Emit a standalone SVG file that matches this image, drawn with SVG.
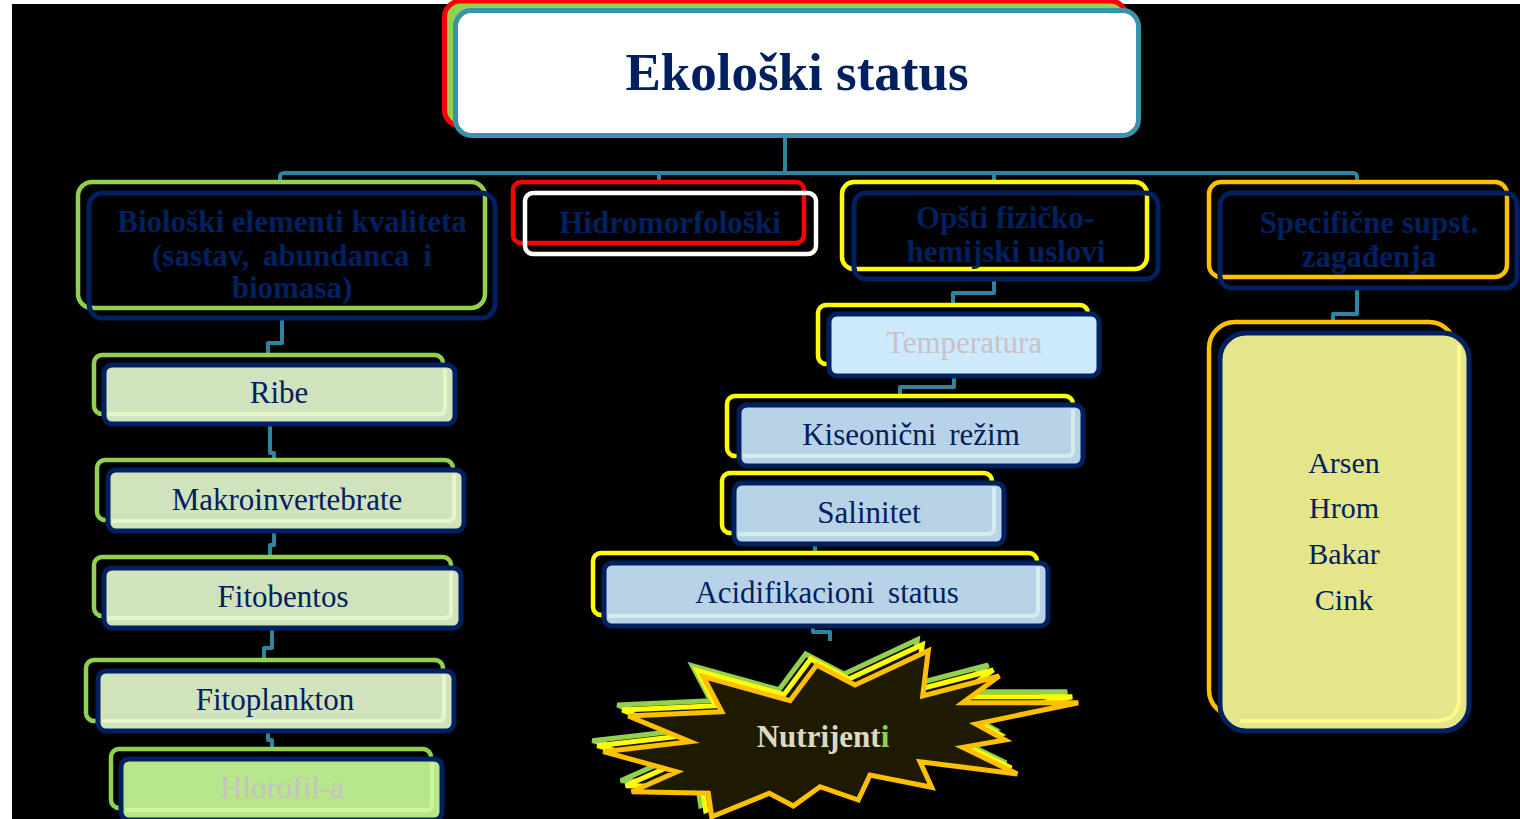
<svg xmlns="http://www.w3.org/2000/svg" xmlns:xlink="http://www.w3.org/1999/xlink" width="1520" height="819" viewBox="0 0 1520 819">
  <style>
    text { font-family: "Liberation Serif", "Times New Roman", serif; text-anchor: middle; }
    .hd { font-weight: bold; font-size: 31px; fill: #002060; }
    .it { font-size: 31px; fill: #002060; }
    .grey { fill: #c9c1c5; }
    .nv { stroke: #002060; stroke-width: 5; }
    .gr { fill: none; stroke: #92d050; stroke-width: 4.5; }
    .ye { fill: none; stroke: #ffff00; stroke-width: 4.5; }
    .or { fill: none; stroke: #ffc000; stroke-width: 4.5; }
    .rd { fill: none; stroke: #ff0000; stroke-width: 4.5; }
    .wh { fill: none; stroke: #ffffff; stroke-width: 4.5; }
    .fg { fill: #d0e3bc; }
    .fg2 { fill: #b8e68c; }
    .fb { fill: #b8d3e7; }
    .fb2 { fill: #cdeafd; }
    .fy { fill: #e5e68b; }
    .hl { fill: none; stroke-width: 4; }
    .conn { fill: none; stroke: #31849b; stroke-width: 4; stroke-linejoin: round; }
  </style>
  <defs>
    <polygon id="burst" points="928.3,650.7 922.7,696 999.3,676 962.7,702.7 1078.3,702.7 976,724 1005,740 962.7,747.3 1017.3,774 920,761.7 931.7,787.3 870,775 858.3,800 820,786.7 793.3,806 769.3,793.3 711.7,816.7 708.3,793.3 631.7,791.7 676.7,771.7 603.3,751.7 690,741.7 628.3,716 721.7,711.7 703.3,676.7 790,700.7 816.7,665 855,685"/>
  </defs>

  <!-- page -->
  <rect x="0" y="0" width="1520" height="819" fill="#ffffff"/>
  <rect x="12" y="4" width="1508" height="815" fill="#000000"/>

  <!-- connectors -->
  <g id="connectors" class="conn">
    <path d="M785,136 V173"/>
    <path d="M280,182 V177 Q280,173 284,173 H1353 Q1357,173 1357,177 V182"/>
    <path d="M659,173 V182"/>
    <path d="M994,173 V182"/>
    <!-- left column -->
    <path d="M282,318 V343 H268 V355"/>
    <path d="M270,424 V453 H274 V460"/>
    <path d="M274,531 V545 H270 V557"/>
    <path d="M272,628 V648 H264 V660"/>
    <path d="M268,731 V740 H272 V749"/>
    <!-- middle column -->
    <path d="M994,279 V293 H953 V305"/>
    <path d="M954,376 V387 H900 V397"/>
    <path d="M815,544 V553"/>
    <path d="M813,626 V632 H830 V641"/>
    <!-- right column -->
    <path d="M1357,288 V314 H1333 V322"/>
  </g>

  <!-- root -->
  <g id="node-ekoloski-status">
    <rect x="444.5" y="1" width="682" height="125" rx="16" fill="#92d050" stroke="#ff0000" stroke-width="5"/>
    <rect x="455.5" y="10.5" width="683" height="125" rx="16" fill="#ffffff" stroke="#3a93aa" stroke-width="5"/>
    <text x="797" y="90" style="font-weight:bold;font-size:53px;fill:#002060">Ekološki status</text>
  </g>

  <!-- category headers -->
  <g id="node-bioloski">
    <rect class="gr" x="78" y="182" width="407" height="126" rx="14"/>
    <rect class="nv" fill="none" x="89" y="193" width="406" height="125" rx="14"/>
    <text class="hd" x="292" y="232">Biološki elementi kvaliteta</text>
    <text class="hd" x="292" y="266" word-spacing="6">(sastav, abundanca i</text>
    <text class="hd" x="292" y="298">biomasa)</text>
  </g>

  <g id="node-hidromorfoloski">
    <rect class="rd" x="513" y="182" width="291" height="61" rx="8"/>
    <rect class="wh" x="525" y="193" width="291" height="61" rx="8"/>
    <text class="hd" x="670" y="233">Hidromorfološki</text>
  </g>

  <g id="node-opsti">
    <rect class="ye" x="842" y="182" width="305" height="87" rx="12"/>
    <rect class="nv" fill="none" x="854" y="193" width="304" height="86" rx="12"/>
    <text class="hd" x="1005" y="228">Opšti fizičko-</text>
    <text class="hd" x="1006" y="262">hemijski uslovi</text>
  </g>

  <g id="node-specificne">
    <rect class="or" x="1209" y="182" width="298" height="95" rx="12"/>
    <rect class="nv" fill="none" x="1220" y="193" width="297" height="95" rx="12"/>
    <text class="hd" x="1369" y="233">Specifične supst.</text>
    <text class="hd" x="1369" y="267">zagađenja</text>
  </g>

  <!-- biological elements -->
  <g id="node-ribe">
    <rect class="gr" x="94" y="355" width="349" height="59" rx="8"/>
    <rect class="nv fg" x="104" y="365" width="351" height="59" rx="8"/>
    <path class="hl" stroke="#e3f7c8" d="M445,369 V408 Q445,414 439,414 H108"/>
    <text class="it" x="279" y="403">Ribe</text>
  </g>

  <g id="node-makroinvertebrate">
    <rect class="gr" x="97" y="460" width="356" height="60" rx="8"/>
    <rect class="nv fg" x="108" y="470" width="356" height="61" rx="8"/>
    <path class="hl" stroke="#e3f7c8" d="M454,474 V515 Q454,521 448,521 H112"/>
    <text class="it" x="287" y="510">Makroinvertebrate</text>
  </g>

  <g id="node-fitobentos">
    <rect class="gr" x="94" y="557" width="357" height="59" rx="8"/>
    <rect class="nv fg" x="104" y="568" width="357" height="60" rx="8"/>
    <path class="hl" stroke="#e3f7c8" d="M451,572 V612 Q451,618 445,618 H108"/>
    <text class="it" x="283" y="607">Fitobentos</text>
  </g>

  <g id="node-fitoplankton">
    <rect class="gr" x="86" y="660" width="357" height="61" rx="8"/>
    <rect class="nv fg" x="98" y="671" width="356" height="60" rx="8"/>
    <path class="hl" stroke="#e3f7c8" d="M444,675 V715 Q444,721 438,721 H102"/>
    <text class="it" x="275" y="710">Fitoplankton</text>
  </g>

  <g id="node-hlorofil">
    <rect class="gr" x="111" y="749" width="320" height="59" rx="8"/>
    <rect class="nv fg2" x="121" y="759" width="321" height="61" rx="8"/>
    <path class="hl" stroke="#cdf59a" d="M432,763 V804 Q432,810 426,810 H125"/>
    <text class="it grey" x="282" y="798">Hlorofil-a</text>
  </g>

  <!-- physico-chemical conditions -->
  <g id="node-temperatura">
    <rect class="ye" x="818" y="305" width="270" height="59" rx="8"/>
    <rect class="nv fb2" x="829" y="314" width="270" height="62" rx="8"/>
    <text class="it grey" x="964" y="353">Temperatura</text>
  </g>

  <g id="node-kiseonicni">
    <rect class="ye" x="727" y="396" width="346" height="60" rx="8"/>
    <rect class="nv fb" x="739" y="405" width="344" height="61" rx="8"/>
    <path class="hl" stroke="#d3ecee" d="M1073,409 V450 Q1073,456 1067,456 H743"/>
    <text class="it" x="911" y="445" word-spacing="5">Kiseonični režim</text>
  </g>

  <g id="node-salinitet">
    <rect class="ye" x="722" y="473" width="270" height="60" rx="8"/>
    <rect class="nv fb" x="734" y="483" width="270" height="61" rx="8"/>
    <path class="hl" stroke="#d3ecee" d="M994,487 V528 Q994,534 988,534 H738"/>
    <text class="it" x="869" y="523">Salinitet</text>
  </g>

  <g id="node-acidifikacioni">
    <rect class="ye" x="593" y="553" width="444" height="62" rx="8"/>
    <rect class="nv fb" x="604" y="563" width="444" height="63" rx="8"/>
    <path class="hl" stroke="#d3ecee" d="M1038,567 V610 Q1038,616 1032,616 H608"/>
    <text class="it" x="827" y="603" word-spacing="6">Acidifikacioni status</text>
  </g>

  <g id="node-nutrijenti">
    <use xlink:href="#burst" transform="translate(-11,-11)" fill="#141400" stroke="#92d050" stroke-width="5" stroke-linejoin="miter"/>
    <use xlink:href="#burst" transform="translate(-6,-6)" fill="#141400" stroke="#ffff00" stroke-width="5" stroke-linejoin="miter"/>
    <use xlink:href="#burst" fill="#1e1a00" stroke="#ffc000" stroke-width="5" stroke-linejoin="miter"/>
    <text x="823" y="747" style="font-weight:bold;font-size:31px;fill:#ddd9c3">Nutrijent<tspan fill="#92d050">i</tspan></text>
  </g>

  <!-- specific pollutants -->
  <g id="node-metali">
    <rect class="or" x="1209" y="322" width="246" height="394" rx="26"/>
    <rect class="nv fy" x="1220" y="333" width="249" height="398" rx="26"/>
    <path class="hl" stroke="#fdf98a" d="M1459,345 V697 Q1459,721 1435,721 H1240"/>
    <text x="1344" y="473" style="font-size:30px;fill:#002060">Arsen</text>
    <text x="1344" y="518" style="font-size:30px;fill:#002060">Hrom</text>
    <text x="1344" y="564" style="font-size:30px;fill:#002060">Bakar</text>
    <text x="1344" y="610" style="font-size:30px;fill:#002060">Cink</text>
  </g>
</svg>
